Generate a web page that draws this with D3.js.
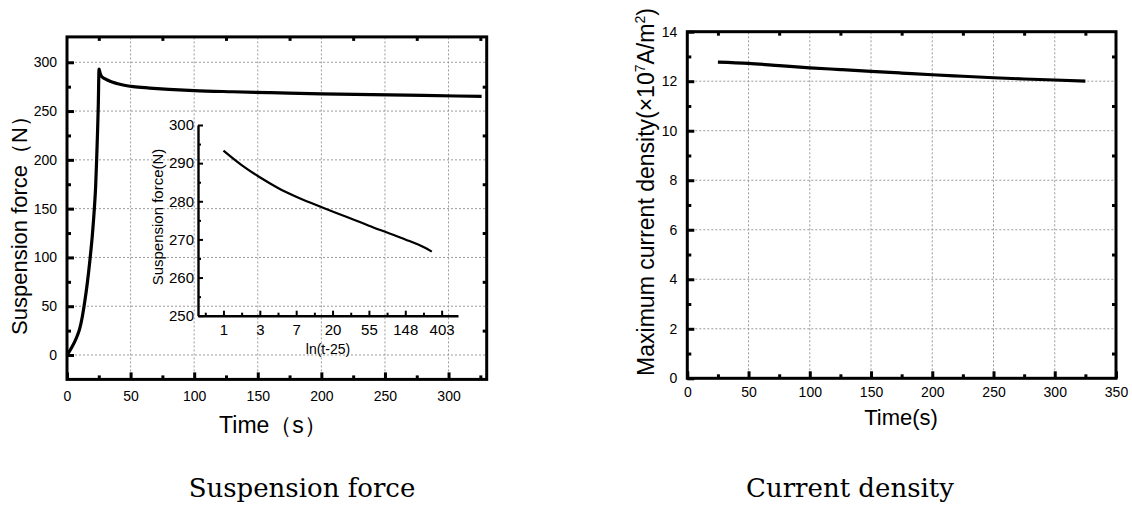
<!DOCTYPE html>
<html>
<head>
<meta charset="utf-8">
<script src="https://cdn.jsdelivr.net/npm/d3@7"></script>
<style>
  body { margin: 0; background: #fff; }
  svg { display: block; }
  text { font-family: "Liberation Sans", Arial, sans-serif; fill: #000; }
</style>
</head>
<body>
<svg id="chart" width="1132" height="509"></svg>
<script>
// ---- Suspension force vs time (main panel) ----
const forceTime  = [0, 2, 4, 6, 8, 10, 12, 14, 16, 18, 20, 21.5, 22.5, 23.3, 24, 24.6, 25.2,
                    26, 27, 28, 30, 33, 36, 40, 45, 52, 65, 80, 100, 130, 160, 200, 240, 280, 326];
const forceValue = [0, 4, 8.5, 13.5, 19.5, 27, 39, 55, 74, 97, 124, 150, 172, 200, 228, 256, 293,
                    289, 286, 284.5, 283, 281, 279.5, 278, 276.5, 275, 273.6, 272.3, 271, 269.8, 268.8, 267.6, 266.8, 266, 265];
const forceXTicks = [0, 50, 100, 150, 200, 250, 300];
const forceYTicks = [0, 50, 100, 150, 200, 250, 300];

// ---- Inset: suspension force vs ln(t-25) ----
const insetLn    = [0, 0.5, 1, 1.5, 2, 2.5, 3, 3.5, 4, 4.5, 5, 5.5, 5.73];
const insetForce = [293.3, 289.5, 286.3, 283.5, 281.2, 279.2, 277.3, 275.5, 273.6, 271.8, 270, 268, 266.8];
const insetXTicks = [0, 1, 2, 3, 4, 5, 6];
const insetXTickLabels = ["1", "3", "7", "20", "55", "148", "403"];
const insetYTicks = [250, 260, 270, 280, 290, 300];

// ---- Maximum current density vs time ----
const densityTime  = [25, 50, 75, 100, 125, 150, 175, 200, 225, 250, 275, 300, 325];
const densityValue = [12.77, 12.72, 12.63, 12.54, 12.47, 12.40, 12.33, 12.26, 12.20, 12.14, 12.09, 12.05, 12.00];
const densityXTicks = [0, 50, 100, 150, 200, 250, 300, 350];
const densityYTicks = [0, 2, 4, 6, 8, 10, 12, 14];

const svg = d3.select("#chart");

// Draws a framed panel with dotted grid, inward ticks and labels.
function framedPanel(opt) {
  const g = svg.append("g");
  const { x, y } = opt;
  const [x0, x1] = x.range();
  const [y0, y1] = y.range(); // y0 bottom, y1 top

  // dotted grid
  g.append("g").selectAll("line").data(opt.xGrid).join("line")
    .attr("x1", d => x(d)).attr("x2", d => x(d))
    .attr("y1", y0).attr("y2", y1)
    .attr("stroke", "#9a9a9a").attr("stroke-width", 1).attr("stroke-dasharray", "2,2");
  g.append("g").selectAll("line").data(opt.yGrid).join("line")
    .attr("x1", x0).attr("x2", x1)
    .attr("y1", d => y(d)).attr("y2", d => y(d))
    .attr("stroke", "#9a9a9a").attr("stroke-width", 1).attr("stroke-dasharray", "2,2");

  // bottom axis: major ticks with labels, inward
  const bottom = g.append("g").attr("transform", `translate(0,${y0})`)
    .call(d3.axisBottom(x).tickValues(opt.xTicks).tickSizeInner(-7).tickSizeOuter(0).tickPadding(12).tickFormat(d3.format("d")));
  bottom.selectAll(".tick line").attr("stroke-width", 3);
  bottom.selectAll(".tick text").attr("font-size", 14).attr("dy", opt.xLabelDy || "0.71em");
  bottom.select(".domain").remove();
  const bMinor = g.append("g").attr("transform", `translate(0,${y0})`)
    .call(d3.axisBottom(x).tickValues(opt.xMinor).tickSizeInner(-4).tickSizeOuter(0).tickFormat(""));
  bMinor.selectAll(".tick line").attr("stroke-width", 3);
  bMinor.select(".domain").remove();

  // left axis
  const left = g.append("g").attr("transform", `translate(${x0},0)`)
    .call(d3.axisLeft(y).tickValues(opt.yTicks).tickSizeInner(-7).tickSizeOuter(0).tickPadding(10).tickFormat(d3.format("d")));
  left.selectAll(".tick line").attr("stroke-width", 3);
  left.selectAll(".tick text").attr("font-size", 14);
  left.select(".domain").remove();
  const lMinor = g.append("g").attr("transform", `translate(${x0},0)`)
    .call(d3.axisLeft(y).tickValues(opt.yMinor).tickSizeInner(-4).tickSizeOuter(0).tickFormat(""));
  lMinor.selectAll(".tick line").attr("stroke-width", 3);
  lMinor.select(".domain").remove();

  // top and right: small inward ticks only
  const top = g.append("g").attr("transform", `translate(0,${y1})`)
    .call(d3.axisTop(x).tickValues(opt.xMinor).tickSizeInner(-4).tickSizeOuter(0).tickFormat(""));
  top.selectAll(".tick line").attr("stroke-width", 3);
  top.select(".domain").remove();
  const right = g.append("g").attr("transform", `translate(${x1},0)`)
    .call(d3.axisRight(y).tickValues(opt.yMinor).tickSizeInner(-4).tickSizeOuter(0).tickFormat(""));
  right.selectAll(".tick line").attr("stroke-width", 3);
  right.select(".domain").remove();

  // frame
  g.append("rect")
    .attr("x", x0).attr("y", y1).attr("width", x1 - x0).attr("height", y0 - y1)
    .attr("fill", "none").attr("stroke", "#000").attr("stroke-width", 3);
  return g;
}

// ===== Left panel: suspension force =====
const xF = d3.scaleLinear().domain([0, 330]).range([67, 486.7]);
const yF = d3.scaleLinear().domain([-25, 326]).range([379.4, 36.9]);

framedPanel({
  x: xF, y: yF,
  xTicks: forceXTicks, xMinor: [25, 75, 125, 175, 225, 275, 325],
  yTicks: forceYTicks, yMinor: [25, 75, 125, 175, 225, 275],
  xGrid: forceXTicks.filter(v => v > 0), yGrid: forceYTicks
});

svg.append("path")
  .datum(forceTime.map((t, i) => [t, forceValue[i]]))
  .attr("fill", "none").attr("stroke", "#000").attr("stroke-width", 3.2)
  .attr("stroke-linejoin", "round")
  .attr("d", d3.line().x(d => xF(d[0])).y(d => yF(d[1])).curve(d3.curveMonotoneX));

svg.append("text")
  .attr("transform", `translate(27,220) rotate(-90)`)
  .attr("text-anchor", "middle").attr("font-size", 22)
  .text("Suspension force\uFF08N\uFF09");

svg.append("text")
  .attr("x", 273).attr("y", 433)
  .attr("text-anchor", "middle").attr("font-size", 23)
  .text("Time\uFF08s\uFF09");

// ===== Inset: ln(t-25) =====
const xI = d3.scaleLinear().domain([-0.7, 6.45]).range([198, 458]);
const yI = d3.scaleLinear().domain([250, 300]).range([315.7, 125]);

const inset = svg.append("g");
const iBottom = inset.append("g").attr("transform", `translate(0,${yI.range()[0]})`)
  .call(d3.axisBottom(xI).tickValues(insetXTicks).tickSizeInner(-5).tickSizeOuter(0).tickPadding(9)
    .tickFormat((d, i) => insetXTickLabels[i]));
iBottom.selectAll(".tick text").attr("font-size", 15);
iBottom.selectAll(".tick line").attr("stroke-width", 2);
iBottom.select(".domain").attr("stroke-width", 2.4);
const iBMinor = inset.append("g").attr("transform", `translate(0,${yI.range()[0]})`)
  .call(d3.axisBottom(xI).tickValues([-0.5, 0.5, 1.5, 2.5, 3.5, 4.5, 5.5]).tickSizeInner(-3).tickSizeOuter(0).tickFormat(""));
iBMinor.selectAll(".tick line").attr("stroke-width", 2);
iBMinor.select(".domain").remove();

const iLeft = inset.append("g").attr("transform", `translate(${xI.range()[0]},0)`)
  .call(d3.axisLeft(yI).tickValues(insetYTicks).tickSizeInner(-5).tickSizeOuter(0).tickPadding(4).tickFormat(d3.format("d")));
iLeft.selectAll(".tick text").attr("font-size", 15);
iLeft.selectAll(".tick line").attr("stroke-width", 2);
iLeft.select(".domain").attr("stroke-width", 2.4);
const iLMinor = inset.append("g").attr("transform", `translate(${xI.range()[0]},0)`)
  .call(d3.axisLeft(yI).tickValues([255, 265, 275, 285, 295]).tickSizeInner(-3).tickSizeOuter(0).tickFormat(""));
iLMinor.selectAll(".tick line").attr("stroke-width", 2);
iLMinor.select(".domain").remove();

inset.append("path")
  .datum(insetLn.map((v, i) => [v, insetForce[i]]))
  .attr("fill", "none").attr("stroke", "#000").attr("stroke-width", 2.2)
  .attr("d", d3.line().x(d => xI(d[0])).y(d => yI(d[1])).curve(d3.curveMonotoneX));

inset.append("text")
  .attr("transform", `translate(163,217) rotate(-90)`)
  .attr("text-anchor", "middle").attr("font-size", 15)
  .text("Suspension force(N)");
inset.append("text")
  .attr("x", 328).attr("y", 354)
  .attr("text-anchor", "middle").attr("font-size", 14)
  .text("ln(t-25)");

// ===== Right panel: maximum current density =====
const xD = d3.scaleLinear().domain([0, 350]).range([687.3, 1116]);
const yD = d3.scaleLinear().domain([0, 14]).range([378.3, 31.7]);

framedPanel({
  x: xD, y: yD,
  xTicks: densityXTicks, xMinor: [25, 75, 125, 175, 225, 275, 325],
  yTicks: densityYTicks, yMinor: [1, 3, 5, 7, 9, 11, 13],
  xGrid: [50, 100, 150, 200, 250, 300], yGrid: [2, 4, 6, 8, 10, 12],
  xLabelDy: "0.5em"
});

svg.append("path")
  .datum(densityTime.map((t, i) => [t, densityValue[i]]))
  .attr("fill", "none").attr("stroke", "#000").attr("stroke-width", 3.2)
  .attr("d", d3.line().x(d => xD(d[0])).y(d => yD(d[1])).curve(d3.curveMonotoneX));

const yLab = svg.append("text")
  .attr("transform", `translate(654,192) rotate(-90)`)
  .attr("text-anchor", "middle").attr("font-size", 23);
yLab.append("tspan").text("Maximum current density(\u00D710");
yLab.append("tspan").attr("dy", -9).attr("font-size", 14).text("7");
yLab.append("tspan").attr("dy", 9).text("A/m");
yLab.append("tspan").attr("dy", -9).attr("font-size", 14).text("2");
yLab.append("tspan").attr("dy", 9).text(")");

svg.append("text")
  .attr("x", 901).attr("y", 425)
  .attr("text-anchor", "middle").attr("font-size", 22)
  .text("Time(s)");

// ===== Panel captions =====
svg.append("text")
  .attr("x", 302).attr("y", 497)
  .attr("text-anchor", "middle").attr("font-size", 26)
  .style("font-family", "'DejaVu Serif', serif")
  .text("Suspension force");
svg.append("text")
  .attr("x", 850).attr("y", 497)
  .attr("text-anchor", "middle").attr("font-size", 26)
  .style("font-family", "'DejaVu Serif', serif")
  .text("Current density");
</script>
</body>
</html>
